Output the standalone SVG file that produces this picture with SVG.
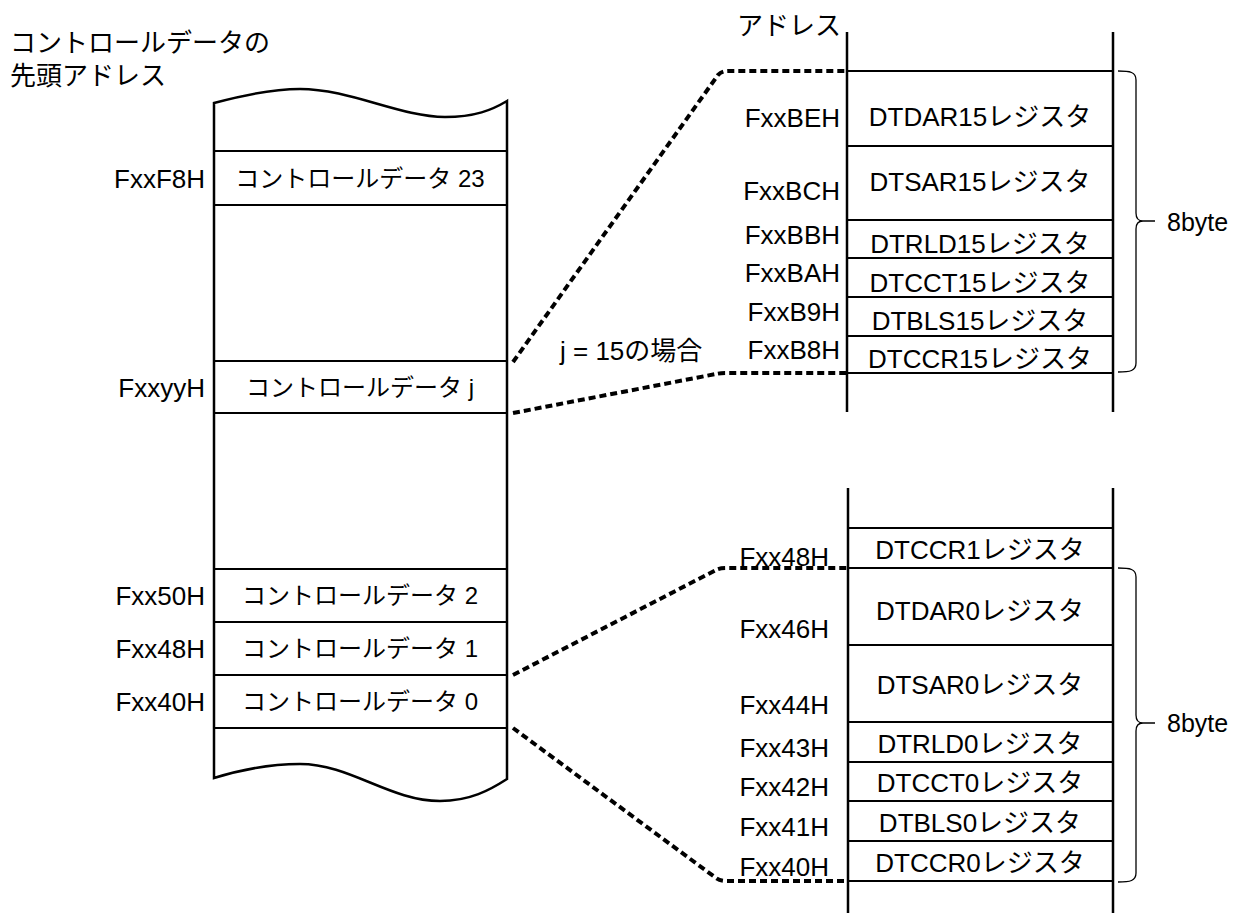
<svg xmlns="http://www.w3.org/2000/svg" width="1234" height="915" viewBox="0 0 1234 915">
<style>
text{font-family:"Liberation Sans","Noto Sans CJK JP",sans-serif;font-size:24px;fill:#000}
.t26{font-size:26px}
.lb{font-size:26px}
.b8{font-size:25px}
.c{text-anchor:middle}
.r{text-anchor:end}
.out{fill:none;stroke:#000;stroke-width:2.5}
.row{stroke:#000;stroke-width:2;fill:none}
.vl{stroke:#000;stroke-width:2.5;fill:none}
.dot{fill:none;stroke:#000;stroke-width:4;stroke-dasharray:7 4;stroke-linejoin:round}
.brace{fill:none;stroke:#000;stroke-width:1.3}
</style>
<rect width="1234" height="915" fill="#fff"/>
<g id="title">
<text class="t26" x="10" y="52">コントロールデータの</text>
<text class="t26" x="10" y="85">先頭アドレス</text>
</g>
<g id="control-data-column">
<path class="out" d="M214,103 C240,96 270,89 300,89 C350,89 400,117 445,117 C475,117 492,110 507,101 L507,779 C490,790 470,801 440,801 C390,801 350,764 300,764 C270,764 240,770 214,778 Z"/>
<line class="row" x1="214" y1="151" x2="507" y2="151"/>
<line class="row" x1="214" y1="205" x2="507" y2="205"/>
<line class="row" x1="214" y1="361" x2="507" y2="361"/>
<line class="row" x1="214" y1="413" x2="507" y2="413"/>
<line class="row" x1="214" y1="569" x2="507" y2="569"/>
<line class="row" x1="214" y1="622" x2="507" y2="622"/>
<line class="row" x1="214" y1="675" x2="507" y2="675"/>
<line class="row" x1="214" y1="728" x2="507" y2="728"/>
<text class="c" x="360" y="187">コントロールデータ 23</text>
<text class="c" x="360" y="396">コントロールデータ j</text>
<text class="c" x="360" y="604">コントロールデータ 2</text>
<text class="c" x="360" y="657">コントロールデータ 1</text>
<text class="c" x="360" y="710">コントロールデータ 0</text>
<text class="r lb" x="205" y="188">FxxF8H</text>
<text class="r lb" x="205" y="397">FxxyyH</text>
<text class="r lb" x="205" y="605">Fxx50H</text>
<text class="r lb" x="205" y="658">Fxx48H</text>
<text class="r lb" x="205" y="711">Fxx40H</text>
</g>
<g id="register-column-15">
<text class="t26" x="737" y="35">アドレス</text>
<line class="vl" x1="847" y1="32" x2="847" y2="412"/>
<line class="vl" x1="1113" y1="32" x2="1113" y2="412"/>
<line class="row" x1="847" y1="71" x2="1113" y2="71"/>
<line class="row" x1="847" y1="146" x2="1113" y2="146"/>
<line class="row" x1="847" y1="220" x2="1113" y2="220"/>
<line class="row" x1="847" y1="258" x2="1113" y2="258"/>
<line class="row" x1="847" y1="297" x2="1113" y2="297"/>
<line class="row" x1="847" y1="336" x2="1113" y2="336"/>
<line class="row" x1="847" y1="373" x2="1113" y2="373"/>
<text class="c lb" x="980" y="126">DTDAR15レジスタ</text>
<text class="c lb" x="980" y="191">DTSAR15レジスタ</text>
<text class="c lb" x="980" y="253">DTRLD15レジスタ</text>
<text class="c lb" x="980" y="292">DTCCT15レジスタ</text>
<text class="c lb" x="980" y="330">DTBLS15レジスタ</text>
<text class="c lb" x="980" y="368">DTCCR15レジスタ</text>
<text class="r lb" x="840" y="127">FxxBEH</text>
<text class="r lb" x="840" y="200">FxxBCH</text>
<text class="r lb" x="840" y="244">FxxBBH</text>
<text class="r lb" x="840" y="282">FxxBAH</text>
<text class="r lb" x="840" y="321">FxxB9H</text>
<text class="r lb" x="840" y="359">FxxB8H</text>
<path class="brace" d="M1118,71 C1130,71 1136,72 1136,80 L1136,213 C1136,219 1139,221 1143,221 C1139,221 1136,223 1136,229 L1136,363 C1136,371 1130,372 1118,372 M1143,221 L1155,221"/>
<text class="b8" x="1167" y="231">8byte</text>
</g>
<g id="register-column-0">
<line class="vl" x1="848" y1="488" x2="848" y2="913"/>
<line class="vl" x1="1113" y1="488" x2="1113" y2="913"/>
<line class="row" x1="848" y1="528" x2="1113" y2="528"/>
<line class="row" x1="848" y1="568" x2="1113" y2="568"/>
<line class="row" x1="848" y1="645" x2="1113" y2="645"/>
<line class="row" x1="848" y1="722" x2="1113" y2="722"/>
<line class="row" x1="848" y1="762" x2="1113" y2="762"/>
<line class="row" x1="848" y1="801" x2="1113" y2="801"/>
<line class="row" x1="848" y1="841" x2="1113" y2="841"/>
<line class="row" x1="848" y1="881" x2="1113" y2="881"/>
<text class="c lb" x="980" y="559">DTCCR1レジスタ</text>
<text class="c lb" x="980" y="620">DTDAR0レジスタ</text>
<text class="c lb" x="980" y="694">DTSAR0レジスタ</text>
<text class="c lb" x="980" y="753">DTRLD0レジスタ</text>
<text class="c lb" x="980" y="792">DTCCT0レジスタ</text>
<text class="c lb" x="980" y="832">DTBLS0レジスタ</text>
<text class="c lb" x="980" y="872">DTCCR0レジスタ</text>
<text class="r lb" x="829" y="566">Fxx48H</text>
<text class="r lb" x="829" y="638">Fxx46H</text>
<text class="r lb" x="829" y="714">Fxx44H</text>
<text class="r lb" x="829" y="757">Fxx43H</text>
<text class="r lb" x="829" y="796">Fxx42H</text>
<text class="r lb" x="829" y="836">Fxx41H</text>
<text class="r lb" x="829" y="876">Fxx40H</text>
<path class="brace" d="M1118,568 C1130,568 1136,569 1136,577 L1136,715 C1136,721 1139,723 1143,723 C1139,723 1136,725 1136,731 L1136,873 C1136,881 1130,882 1118,882 M1143,723 L1155,723"/>
<text class="b8" x="1167" y="732">8byte</text>
</g>
<g id="connectors">
<path class="dot" d="M513,362 L718,75 Q722,71 728,71 L847,71"/>
<path class="dot" d="M513,413 L716,374 Q720,373 726,373 L847,373"/>
<path class="dot" d="M513,675 L716,570 Q720,568 726,568 L848,568"/>
<path class="dot" d="M513,728 L716,878 Q720,881 726,881 L848,881"/>
<text class="lb" x="560" y="360">j = 15の場合</text>
</g>
</svg>
